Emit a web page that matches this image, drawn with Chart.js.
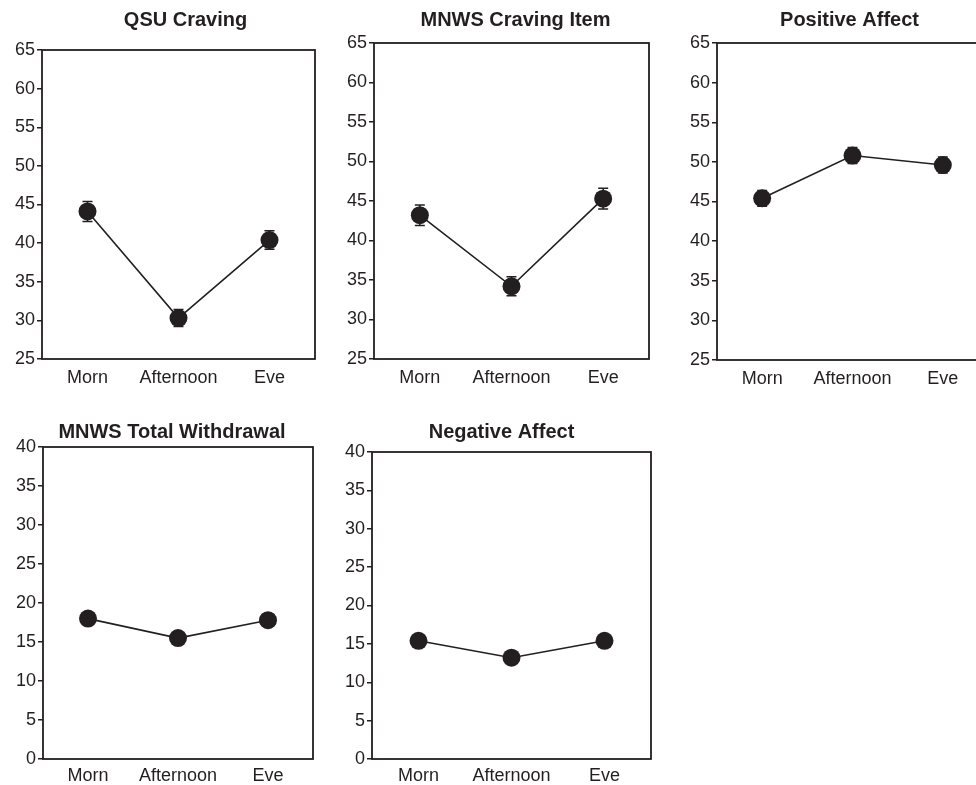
<!DOCTYPE html>
<html>
<head>
<meta charset="utf-8">
<script src="https://cdn.jsdelivr.net/npm/chart.js@4.4.1/dist/chart.umd.min.js"></script>
<style>
html, body { margin: 0; padding: 0; background: #fff; overflow: hidden; }
#wrap { position: relative; width: 976px; height: 785px; overflow: hidden; }
canvas { position: absolute; }
</style>
</head>
<body>
<div id="wrap">
  <canvas id="c1" width="330" height="390" style="left:0px;top:0px"></canvas>
  <canvas id="c2" width="330" height="390" style="left:330px;top:0px"></canvas>
  <canvas id="c3" width="340" height="390" style="left:660px;top:0px"></canvas>
  <canvas id="c4" width="330" height="395" style="left:0px;top:390px"></canvas>
  <canvas id="c5" width="330" height="395" style="left:330px;top:390px"></canvas>
</div>
<script>
// Data
const categories = ['Morn', 'Afternoon', 'Eve'];

const qsuMeans = [44.1, 30.3, 40.4];
const qsuErrors = [1.3, 1.1, 1.2];

const cravingItemMeans = [43.2, 34.2, 45.3];
const cravingItemErrors = [1.3, 1.2, 1.3];

const positiveMeans = [45.4, 50.8, 49.6];
const positiveErrors = [1.0, 1.0, 1.0];

const withdrawalMeans = [18.0, 15.5, 17.8];
const withdrawalErrors = [0.5, 0.4, 0.6];

const negativeMeans = [15.4, 13.2, 15.4];
const negativeErrors = [0.5, 0.4, 0.5];

const INK = '#231f20';
const FONT = "'Liberation Sans', Arial, sans-serif";

// error bars drawn under the markers
const errorBars = {
    id: 'errorBars',
    beforeDatasetsDraw(chart, args, opts) {
        const { ctx, scales: { x, y } } = chart;
        const values = chart.data.datasets[0].data;
        const errs = opts.values || [];
        ctx.save();
        ctx.strokeStyle = INK;
        ctx.lineWidth = 1.5;
        values.forEach((v, i) => {
            const px = x.getPixelForValue(i);
            const top = y.getPixelForValue(v + errs[i]);
            const bot = y.getPixelForValue(v - errs[i]);
            ctx.beginPath();
            ctx.moveTo(px, top); ctx.lineTo(px, bot);
            ctx.moveTo(px - 5, top); ctx.lineTo(px + 5, top);
            ctx.moveTo(px - 5, bot); ctx.lineTo(px + 5, bot);
            ctx.stroke();
        });
        ctx.restore();
    }
};

// box around the plot area + panel title
const frame = {
    id: 'frame',
    beforeDatasetsDraw(chart, args, opts) {
        const { ctx, chartArea: a } = chart;
        ctx.save();
        ctx.strokeStyle = INK;
        ctx.lineWidth = 1.8;
        ctx.strokeRect(a.left, a.top, a.right - a.left, a.bottom - a.top);

        ctx.fillStyle = INK;
        ctx.font = 'bold 20px ' + FONT;
        ctx.textAlign = 'center';
        ctx.textBaseline = 'middle';
        ctx.fillText(opts.text, (a.left + a.right) / 2 + opts.dx, opts.y);
        ctx.restore();
    }
};

const panels = [
    { id: 'c1', title: 'QSU Craving', means: qsuMeans, errs: qsuErrors, min: 25, max: 65,
      yWidth: 42, padRight: 15, titleY: 20, titleDx: 7, titleH: 50, xHeight: 31, xPad: 0 },
    { id: 'c2', title: 'MNWS Craving Item', means: cravingItemMeans, errs: cravingItemErrors, min: 25, max: 65,
      yWidth: 44, padRight: 11, titleY: 20, titleDx: 4, titleH: 43, xHeight: 31, xPad: 0 },
    { id: 'c3', title: 'Positive Affect', means: positiveMeans, errs: positiveErrors, min: 25, max: 65,
      yWidth: 57, padRight: 12, titleY: 20, titleDx: -3, titleH: 43, xHeight: 30, xPad: 0 },
    { id: 'c4', title: 'MNWS Total Withdrawal', means: withdrawalMeans, errs: withdrawalErrors, min: 0, max: 40,
      yWidth: 43, padRight: 17, titleY: 42, titleDx: -6, titleH: 57, xHeight: 26, xPad: -2 },
    { id: 'c5', title: 'Negative Affect', means: negativeMeans, errs: negativeErrors, min: 0, max: 40,
      yWidth: 42, padRight: 7, titleY: 42, titleDx: -10, titleH: 62, xHeight: 26, xPad: -2 }
];

panels.forEach(p => {
    new Chart(document.getElementById(p.id), {
        type: 'line',
        data: {
            labels: categories,
            datasets: [{
                data: p.means,
                borderColor: INK,
                borderWidth: 1.6,
                tension: 0,
                pointRadius: 9,
                pointBackgroundColor: INK,
                pointBorderColor: INK,
                pointBorderWidth: 0
            }]
        },
        options: {
            responsive: false,
            animation: false,
            layout: { padding: { left: 0, right: p.padRight, top: p.titleH, bottom: 0 } },
            plugins: {
                legend: { display: false },
                tooltip: { enabled: false },
                title: { display: false },
                frame: { text: p.title, dx: p.titleDx, y: p.titleY },
                errorBars: { values: p.errs }
            },
            scales: {
                x: {
                    type: 'category',
                    offset: true,
                    grid: { display: false },
                    border: { display: false },
                    ticks: {
                        color: INK,
                        padding: p.xPad,
                        maxRotation: 0,
                        autoSkip: false,
                        font: { family: FONT, size: 18 }
                    },
                    afterFit: s => { s.height = p.xHeight; }
                },
                y: {
                    min: p.min,
                    max: p.max,
                    grid: {
                        display: true,
                        drawOnChartArea: false,
                        drawTicks: true,
                        tickLength: 5,
                        color: INK,
                        lineWidth: 1.5
                    },
                    border: { display: false },
                    ticks: {
                        stepSize: 5,
                        color: INK,
                        padding: 2,
                        font: { family: FONT, size: 18 }
                    },
                    afterFit: s => { s.width = p.yWidth; }
                }
            }
        },
        plugins: [frame, errorBars]
    });
});
</script>
</body>
</html>
